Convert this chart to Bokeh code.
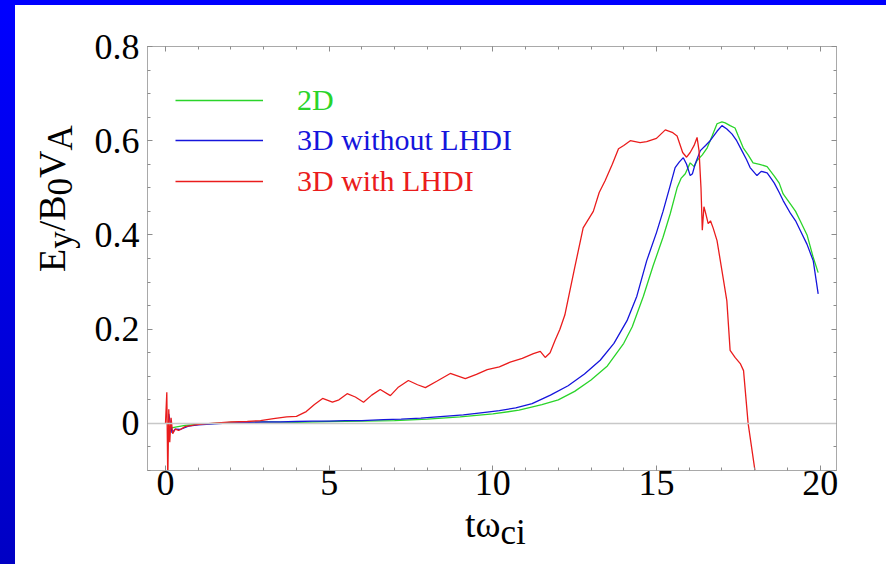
from bokeh.plotting import figure
from bokeh.models import (Div, Legend, LegendItem, Span, FixedTicker,
                          LinearAxis, Range1d)
from bokeh.layouts import row, column
from bokeh.embed import file_html
from bokeh.resources import INLINE
import numpy as np

# ---------------- data ----------------
red_t = [0.0, 0.04, 0.07, 0.1, 0.13, 0.17, 0.22, 0.3, 0.4, 0.6,
         0.9, 1.2, 1.6, 2.0, 2.5, 2.9, 3.3, 3.7, 4.0, 4.3,
         4.55, 4.8, 5.1, 5.3, 5.55, 5.8, 6.05, 6.3, 6.56, 6.87,
         7.1, 7.42, 7.7, 7.94, 8.3, 8.7, 9.16, 9.5, 9.83, 10.2,
         10.53, 10.9, 11.24, 11.45, 11.6, 11.75, 11.9, 12.05, 12.2, 12.5,
         12.76, 13.07, 13.25, 13.43, 13.65, 13.84, 14.0, 14.2, 14.5, 14.7,
         15.0, 15.27, 15.5, 15.63, 15.8, 15.92, 16.03, 16.15, 16.24, 16.3,
         16.36, 16.4, 16.45, 16.5, 16.58, 16.65, 16.73, 16.85, 17.05, 17.15,
         17.25, 17.4, 17.56, 17.66, 17.8, 18.05]
red_e = [0.0, 0.066, -0.12, 0.03, -0.04, 0.012, -0.022, -0.012, -0.015, -0.007,
         -0.003, -0.001, 0.001, 0.003, 0.004, 0.006, 0.01, 0.014, 0.015, 0.025,
         0.04, 0.053, 0.045, 0.05, 0.063, 0.056, 0.045, 0.06, 0.072, 0.059,
         0.076, 0.091, 0.082, 0.076, 0.09, 0.106, 0.095, 0.104, 0.114, 0.12,
         0.13, 0.138, 0.148, 0.153, 0.14, 0.15, 0.176, 0.2, 0.23, 0.33,
         0.415, 0.45, 0.49, 0.515, 0.55, 0.583, 0.59, 0.6, 0.596, 0.598,
         0.605, 0.623, 0.617, 0.61, 0.575, 0.565, 0.575, 0.59, 0.607, 0.579,
         0.5, 0.41, 0.46, 0.447, 0.424, 0.43, 0.415, 0.388, 0.303, 0.26,
         0.155, 0.14, 0.127, 0.112, 0.0, -0.12]

blue_t = [0.1, 0.2, 0.3, 0.45, 0.7, 1.0, 1.5, 2.0, 2.5, 3.0,
          3.5, 4.0, 4.5, 5.0, 5.5, 6.0, 6.66, 7.2, 7.8, 8.5,
          9.1, 9.7, 10.2, 10.7, 11.2, 11.76, 12.3, 12.8, 13.28, 13.7,
          14.1, 14.4, 14.7, 15.0, 15.2, 15.4, 15.57, 15.7, 15.82, 15.92,
          16.03, 16.1, 16.18, 16.34, 16.5, 16.64, 16.85, 17.0, 17.15, 17.31,
          17.45, 17.6, 17.75, 17.86, 18.07, 18.2, 18.38, 18.5, 18.6, 18.75,
          18.87, 19.1, 19.25, 19.39, 19.6, 19.79, 19.94]
blue_e = [0.02, -0.02, -0.012, -0.013, -0.006, -0.003, -0.001, 0.001, 0.002, 0.003,
          0.003, 0.004, 0.005, 0.005, 0.006, 0.006, 0.008, 0.009, 0.011, 0.015,
          0.018, 0.023, 0.027, 0.033, 0.042, 0.06, 0.08, 0.105, 0.134, 0.17,
          0.218, 0.27, 0.345, 0.405, 0.45, 0.5, 0.543, 0.555, 0.564, 0.55,
          0.526, 0.53, 0.55, 0.579, 0.59, 0.6, 0.62, 0.632, 0.625, 0.614,
          0.6, 0.58, 0.56, 0.543, 0.526, 0.535, 0.532, 0.52, 0.51, 0.49,
          0.473, 0.445, 0.43, 0.41, 0.38, 0.345, 0.275]

green_t = [0.15, 0.3, 0.6, 1.0, 1.5, 2.0, 3.0, 4.0, 5.0, 6.0,
           7.0, 8.0, 9.0, 10.0, 10.8, 11.5, 12.0, 12.5, 13.0, 13.5,
           14.0, 14.26, 14.6, 14.9, 15.2, 15.42, 15.63, 15.75, 15.88, 16.03,
           16.15, 16.24, 16.4, 16.55, 16.7, 16.85, 17.0, 17.1, 17.25, 17.4,
           17.5, 17.65, 17.8, 17.95, 18.15, 18.38, 18.6, 18.75, 18.87, 19.1,
           19.25, 19.39, 19.6, 19.79, 19.94]
green_e = [-0.01, -0.008, -0.004, -0.002, 0.0, 0.002, 0.003, 0.002, 0.004, 0.005,
           0.006, 0.009, 0.014, 0.02, 0.028, 0.04, 0.05, 0.068, 0.092, 0.122,
           0.17, 0.205, 0.27, 0.335, 0.395, 0.445, 0.5, 0.52, 0.53, 0.553,
           0.545, 0.558, 0.57, 0.585, 0.61, 0.636, 0.64, 0.638, 0.632, 0.627,
           0.61, 0.585, 0.57, 0.553, 0.55, 0.545, 0.525, 0.51, 0.487, 0.465,
           0.45, 0.43, 0.4, 0.352, 0.32]

series_names = ["2D", "3D without LHDI", "3D with LHDI"]
x_ticks = [0, 5, 10, 15, 20]
y_ticks = [0, 0.2, 0.4, 0.6, 0.8]
y_tick_labels = {0: "0", 0.2: "0.2", 0.4: "0.4", 0.6: "0.6", 0.8: "0.8"}

# ---------------- styling ----------------
FONT = "Liberation Serif"
GREEN = "#2ad42a"
BLUE = "#1515dc"
RED = "#ea1c1c"
GRAY = "#a9a9a9"

p = figure(width=806, height=509, x_range=Range1d(-0.55, 20.5),
           y_range=Range1d(-0.1, 0.8), output_backend="svg",
           toolbar_location=None,
           min_border_left=67, min_border_right=50,
           min_border_top=41, min_border_bottom=44)
p.grid.visible = False
p.background_fill_color = "white"
p.border_fill_color = "white"
p.outline_line_color = GRAY
p.outline_line_width = 1

x_minor = list(np.arange(0, 21, 1.0))
y_minor = list(np.round(np.arange(-0.1, 0.8001, 0.05), 3))
xt = FixedTicker(ticks=x_ticks, minor_ticks=x_minor)
yt = FixedTicker(ticks=y_ticks, minor_ticks=y_minor)


def style_axis(ax, show_labels):
    ax.axis_line_color = GRAY
    ax.major_tick_line_color = "#8c8c8c"
    ax.minor_tick_line_color = "#8c8c8c"
    ax.major_tick_in = 5
    ax.major_tick_out = 0
    ax.minor_tick_in = 3
    ax.minor_tick_out = 0
    ax.major_label_text_font = FONT
    if show_labels:
        ax.major_label_text_font_size = "36px"
        ax.major_label_text_color = "black"
    else:
        ax.major_label_text_font_size = "0px"
        ax.major_label_text_color = None


p.xaxis.ticker = xt
p.yaxis.ticker = yt
for ax in p.xaxis:
    style_axis(ax, True)
    ax.major_label_standoff = 0
for ax in p.yaxis:
    style_axis(ax, True)
    ax.major_label_standoff = 8
    ax.major_label_overrides = y_tick_labels

top = LinearAxis(ticker=FixedTicker(ticks=x_ticks, minor_ticks=x_minor))
style_axis(top, False)
p.add_layout(top, "above")
right = LinearAxis(ticker=FixedTicker(ticks=y_ticks, minor_ticks=y_minor))
style_axis(right, False)
p.add_layout(right, "right")

p.add_layout(Span(location=0, dimension="width", line_color="#c8c8c8",
                  line_width=1.5))

rg = p.line(green_t, green_e, line_color=GREEN, line_width=1.3)
rb = p.line(blue_t, blue_e, line_color=BLUE, line_width=1.3)
rr = p.line(red_t, red_e, line_color=RED, line_width=1.3)

# legends (one per entry so that each label has its own colour)
for name, rend, col, ybot in [(series_names[0], rg, GREEN, 353),
                               (series_names[1], rb, BLUE, 313),
                               (series_names[2], rr, RED, 272)]:
    leg = Legend(items=[LegendItem(label=name, renderers=[rend])],
                 location=(28, ybot), label_text_color=col,
                 label_text_font=FONT, label_text_font_size="30px",
                 glyph_width=88, glyph_height=34, label_height=34,
                 label_standoff=34, padding=0, margin=0,
                 border_line_color=None, background_fill_alpha=0)
    p.add_layout(leg)

# ---------------- axis titles (HTML, with lowered subscripts) ----------------
SUB = "<span style='position:relative;top:7px;font-size:35px'>{}</span>"
TXT = ("font-family:'Liberation Serif';font-size:38px;line-height:20px;"
       "white-space:nowrap;color:black;")

y_title_html = "E" + SUB.format("y") + "/B" + SUB.format("0") + "V" + SUB.format("A")
x_title_html = "t&omega;" + SUB.format("ci")

y_title = Div(width=65, height=559, margin=0,
              text=("<div style=\"display:inline-block;" + TXT +
                    "transform-origin:0 0;"
                    "transform:translate(27px,267px) rotate(-90deg);\">" +
                    y_title_html + "</div>"))
x_title = Div(width=806, height=50, margin=0,
              text=("<div style=\"" + TXT + "padding-left:385px;padding-top:0;\">" +
                    x_title_html + "</div>"))

top_strip = Div(width=886, height=5, margin=0,
                styles={"background-color": "#0000ff"})
left_strip = Div(width=15, height=559, margin=0,
                 styles={"background": "linear-gradient(to bottom, #0000ff, #0000c4)"})

root = column(top_strip,
              row(left_strip, y_title, column(p, x_title, spacing=0), spacing=0),
              spacing=0)

open("out.html", "w").write(file_html(root, INLINE))
